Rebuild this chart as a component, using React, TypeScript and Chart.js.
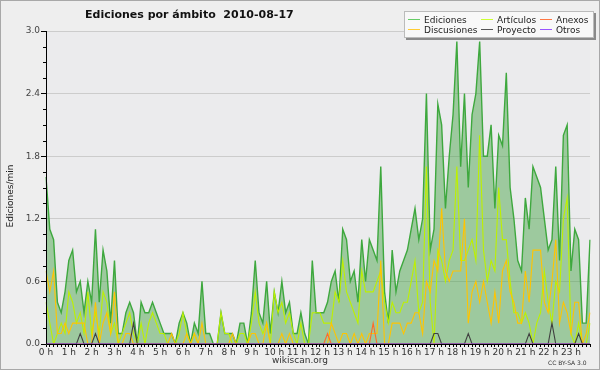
import React, { useEffect, useRef } from 'react';
import { Chart, registerables } from 'chart.js';

Chart.register(...registerables);

const titleText = 'Ediciones por ámbito  2010-08-17';
const yTitle = 'Ediciones/min';
const footerLeft = 'wikiscan.org';
const footerRight = 'CC BY-SA 3.0';

const hourLabels = [
  '0 h', '1 h', '2 h', '3 h', '4 h', '5 h', '6 h', '7 h', '8 h', '9 h', '10 h', '11 h',
  '12 h', '13 h', '14 h', '15 h', '16 h', '17 h', '18 h', '19 h', '20 h', '21 h', '22 h', '23 h',
];

// one value every 10 minutes (6 per hour)
const ediciones = [
  1.6, 1.1, 1.0, 0.4, 0.3, 0.5,
  0.8, 0.9, 0.5, 0.6, 0.3, 0.6,
  0.4, 1.1, 0.4, 0.9, 0.7, 0.2,
  0.8, 0.1, 0.1, 0.3, 0.4, 0.3,
  0.0, 0.4, 0.3, 0.3, 0.4, 0.3,
  0.2, 0.1, 0.1, 0.1, 0.0, 0.2,
  0.3, 0.2, 0.0, 0.2, 0.1, 0.6,
  0.1, 0.1, 0.0, 0.0, 0.3, 0.1,
  0.1, 0.1, 0.0, 0.2, 0.2, 0.0,
  0.3, 0.8, 0.3, 0.2, 0.6, 0.1,
  0.5, 0.3, 0.6, 0.3, 0.4, 0.1,
  0.1, 0.3, 0.1, 0.0, 0.8, 0.3,
  0.3, 0.3, 0.4, 0.6, 0.7, 0.4,
  1.1, 1.0, 0.6, 0.7, 0.4, 1.0,
  0.6, 1.0, 0.9, 0.8, 1.7, 0.5,
  0.2, 0.9, 0.5, 0.7, 0.8, 0.9,
  1.1, 1.3, 1.0, 1.2, 2.4, 0.9,
  1.1, 2.3, 2.1, 1.3, 1.8, 2.2,
  2.9, 1.7, 2.4, 1.5, 2.2, 2.4,
  2.9, 1.8, 1.8, 2.1, 1.3, 2.0,
  1.9, 2.6, 1.5, 1.2, 0.8, 0.7,
  1.4, 1.1, 1.7, 1.6, 1.5, 1.2,
  0.9, 1.0, 1.7, 0.8, 2.0, 2.1,
  0.7, 1.1, 1.0, 0.2, 0.2, 1.0,
];

const articulos = [
  0.4, 0.2, 0.0, 0.1, 0.2, 0.1,
  0.5, 0.4, 0.2, 0.3, 0.1, 0.5,
  0.1, 0.3, 0.1, 0.5, 0.4, 0.1,
  0.2, 0.0, 0.1, 0.2, 0.3, 0.1,
  0.0, 0.2, 0.0, 0.2, 0.3, 0.2,
  0.1, 0.1, 0.0, 0.0, 0.0, 0.1,
  0.3, 0.1, 0.0, 0.1, 0.0, 0.0,
  0.0, 0.0, 0.0, 0.0, 0.3, 0.1,
  0.1, 0.0, 0.0, 0.1, 0.1, 0.0,
  0.2, 0.5, 0.2, 0.1, 0.2, 0.0,
  0.5, 0.3, 0.4, 0.2, 0.3, 0.1,
  0.0, 0.2, 0.0, 0.0, 0.3, 0.3,
  0.3, 0.2, 0.2, 0.2, 0.5, 0.4,
  0.8, 0.5, 0.4, 0.3, 0.2, 0.7,
  0.5, 0.5, 0.5, 0.6, 0.7, 0.4,
  0.2, 0.4, 0.3, 0.3, 0.4, 0.4,
  0.6, 0.8, 0.3, 0.4, 1.7, 0.4,
  0.0, 0.9, 0.8, 0.6, 0.8, 0.9,
  1.7, 0.8, 0.8, 0.9, 1.0, 0.8,
  2.0, 0.9, 0.6, 0.8, 0.7, 1.5,
  1.0, 1.0, 0.6, 0.3, 0.3, 0.2,
  0.3, 0.2, 0.0, 0.2, 0.3, 0.7,
  0.4, 0.2, 0.6, 0.5, 1.2, 1.4,
  0.1, 0.0, 0.2, 0.0, 0.0, 0.2,
];

const discusiones = [
  0.7, 0.5, 0.7, 0.1, 0.1, 0.2,
  0.1, 0.2, 0.2, 0.2, 0.2, 0.0,
  0.0, 0.4, 0.0, 0.2, 0.3, 0.1,
  0.5, 0.0, 0.0, 0.1, 0.1, 0.0,
  0.0, 0.0, 0.0, 0.0, 0.0, 0.0,
  0.0, 0.0, 0.0, 0.1, 0.0, 0.0,
  0.0, 0.1, 0.0, 0.1, 0.0, 0.2,
  0.0, 0.0, 0.0, 0.0, 0.0, 0.0,
  0.0, 0.1, 0.0, 0.0, 0.0, 0.0,
  0.1, 0.1, 0.0, 0.0, 0.2, 0.0,
  0.0, 0.0, 0.1, 0.0, 0.1, 0.0,
  0.0, 0.0, 0.0, 0.0, 0.0, 0.0,
  0.0, 0.0, 0.0, 0.2, 0.1, 0.0,
  0.1, 0.1, 0.0, 0.1, 0.0, 0.1,
  0.0, 0.1, 0.1, 0.1, 0.8, 0.0,
  0.0, 0.2, 0.2, 0.2, 0.1, 0.2,
  0.2, 0.3, 0.3, 0.1, 0.6, 0.5,
  0.8, 0.7, 1.3, 0.7, 0.6, 0.7,
  0.7, 0.7, 1.2, 0.2, 0.5, 0.6,
  0.4, 0.6, 0.4, 0.2, 0.5, 0.2,
  0.7, 0.8, 0.5, 0.4, 0.2, 0.2,
  0.7, 0.4, 0.9, 0.9, 0.9, 0.4,
  0.3, 0.6, 1.0, 0.2, 0.4, 0.3,
  0.1, 0.4, 0.4, 0.0, 0.1, 0.3,
];

const anexos = [
  0, 0, 0, 0, 0, 0, 0, 0, 0, 0, 0, 0, 0, 0, 0, 0, 0, 0, 0, 0, 0, 0, 0, 0,
  0, 0, 0, 0, 0, 0, 0, 0, 0, 0, 0, 0, 0, 0, 0, 0, 0, 0, 0, 0, 0, 0, 0, 0,
  0, 0, 0, 0, 0, 0, 0, 0, 0, 0, 0, 0, 0, 0, 0, 0, 0, 0, 0, 0, 0, 0, 0, 0,
  0, 0, 0.1, 0, 0, 0, 0, 0, 0, 0, 0, 0, 0, 0, 0.2, 0, 0, 0, 0, 0, 0, 0, 0, 0,
  0, 0, 0, 0, 0, 0, 0, 0, 0, 0, 0, 0, 0, 0, 0, 0, 0, 0, 0, 0, 0, 0, 0, 0,
  0, 0, 0, 0, 0, 0, 0, 0, 0, 0, 0, 0, 0, 0, 0, 0, 0, 0, 0, 0, 0, 0, 0, 0,
];

const proyecto = [
  0, 0, 0, 0, 0, 0, 0, 0, 0, 0.1, 0, 0, 0, 0.1, 0, 0, 0, 0, 0, 0, 0, 0, 0, 0.2,
  0, 0, 0, 0, 0, 0, 0, 0, 0, 0, 0, 0, 0, 0, 0, 0, 0, 0, 0, 0, 0, 0, 0, 0,
  0, 0, 0, 0, 0, 0, 0, 0, 0, 0, 0, 0, 0, 0, 0, 0, 0, 0, 0, 0, 0, 0, 0, 0,
  0, 0, 0, 0, 0, 0, 0, 0, 0, 0, 0, 0, 0, 0, 0, 0, 0, 0, 0, 0, 0, 0, 0, 0,
  0, 0, 0, 0, 0, 0, 0.1, 0.1, 0, 0, 0, 0, 0, 0, 0, 0.1, 0, 0, 0, 0, 0, 0, 0, 0,
  0, 0, 0, 0, 0, 0, 0, 0.1, 0, 0, 0, 0, 0, 0.2, 0, 0, 0, 0, 0, 0, 0.1, 0, 0, 0,
];

const otros = [
  0, 0, 0, 0, 0, 0, 0, 0, 0, 0, 0, 0, 0, 0, 0, 0, 0, 0, 0, 0, 0, 0, 0, 0,
  0, 0, 0, 0, 0, 0, 0, 0, 0, 0, 0, 0, 0, 0, 0, 0, 0, 0, 0, 0, 0, 0, 0, 0,
  0, 0, 0, 0, 0, 0, 0, 0, 0, 0, 0, 0, 0, 0, 0, 0, 0, 0, 0, 0, 0, 0, 0, 0,
  0, 0, 0, 0, 0, 0, 0, 0, 0, 0, 0, 0, 0, 0, 0, 0, 0, 0, 0, 0, 0, 0, 0, 0,
  0, 0, 0, 0, 0, 0, 0, 0, 0, 0, 0, 0, 0, 0, 0, 0, 0, 0, 0, 0, 0, 0, 0, 0,
  0, 0, 0, 0, 0, 0, 0, 0, 0, 0, 0, 0, 0, 0, 0, 0, 0, 0, 0, 0, 0, 0, 0, 0,
];

const seriesNames = ['Ediciones', 'Artículos', 'Anexos', 'Discusiones', 'Proyecto', 'Otros'];

const FONT = 'DejaVu Sans';
const isMajor = (v: number) => Math.abs(v / 0.6 - Math.round(v / 0.6)) < 1e-6;

export default function App() {
  const canvasRef = useRef<HTMLCanvasElement | null>(null);

  useEffect(() => {
    document.body.style.margin = '0';
    const canvas = canvasRef.current;
    if (!canvas) return;

    const labels = ediciones.map((_, i) => (i % 6 === 0 ? hourLabels[i / 6] : ''));

    const colors: Record<string, string> = {
      Ediciones: '#3ea83e',
      'Artículos': '#bdf000',
      Anexos: '#ff6a2a',
      Discusiones: '#ffc400',
      Proyecto: '#404040',
      Otros: '#9a4cff',
    };
    const legendColors: Record<string, string> = {
      Ediciones: '#66cc66',
      'Artículos': '#ccff33',
      Anexos: '#ff7744',
      Discusiones: '#ffcc33',
      Proyecto: '#555555',
      Otros: '#9955ff',
    };
    const values: Record<string, number[]> = {
      Ediciones: ediciones,
      'Artículos': articulos,
      Anexos: anexos,
      Discusiones: discusiones,
      Proyecto: proyecto,
      Otros: otros,
    };
    const drawOrder: Record<string, number> = {
      Ediciones: 10,
      'Artículos': 5,
      Discusiones: 4,
      Anexos: 3,
      Proyecto: 2,
      Otros: 1,
    };

    const datasets = seriesNames.map((name) => ({
      label: name,
      data: values[name],
      borderColor: colors[name],
      backgroundColor: name === 'Ediciones' ? 'rgba(62,160,62,0.45)' : colors[name],
      fill: name === 'Ediciones' ? 'origin' : false,
      borderWidth: name === 'Ediciones' ? 1.4 : 1.1,
      pointRadius: 0,
      tension: 0,
      order: drawOrder[name],
    }));

    const decorPlugin = {
      id: 'decor',
      beforeDraw(chart: any) {
        const { ctx, chartArea } = chart;
        ctx.save();
        ctx.fillStyle = '#eeeeee';
        ctx.fillRect(0, 0, chart.width, chart.height);
        ctx.fillStyle = '#ebebed';
        ctx.fillRect(chartArea.left, chartArea.top, chartArea.right - chartArea.left, chartArea.bottom - chartArea.top);
        ctx.strokeStyle = '#a8a8a8';
        ctx.lineWidth = 1;
        ctx.strokeRect(0.5, 0.5, chart.width - 1, chart.height - 1);
        ctx.restore();
      },
      afterDatasetsDraw(chart: any) {
        const { ctx, chartArea } = chart;
        const yScale = chart.scales.y;
        ctx.save();
        ctx.strokeStyle = '#000';
        ctx.lineWidth = 1;
        ctx.beginPath();
        ctx.moveTo(chartArea.left + 0.5, chartArea.top);
        ctx.lineTo(chartArea.left + 0.5, chartArea.bottom + 0.5);
        ctx.lineTo(chartArea.right, chartArea.bottom + 0.5);
        ctx.stroke();
        // minor y ticks
        ctx.beginPath();
        for (const t of yScale.ticks) {
          if (isMajor(t.value)) continue;
          const py = Math.round(yScale.getPixelForValue(t.value)) + 0.5;
          ctx.moveTo(chartArea.left - 3, py);
          ctx.lineTo(chartArea.left, py);
        }
        ctx.stroke();
        ctx.restore();
      },
      afterDraw(chart: any) {
        const { ctx } = chart;
        ctx.save();
        // title
        ctx.fillStyle = '#111';
        ctx.font = `bold 11px "${FONT}"`;
        ctx.textAlign = 'left';
        ctx.textBaseline = 'alphabetic';
        ctx.fillText(titleText, 85, 17.5);
        // y axis title
        ctx.save();
        ctx.translate(13, 196);
        ctx.rotate(-Math.PI / 2);
        ctx.font = `9px "${FONT}"`;
        ctx.fillStyle = '#222';
        ctx.textAlign = 'center';
        ctx.textBaseline = 'alphabetic';
        ctx.fillText(yTitle, 0, 0);
        ctx.restore();
        // footers
        ctx.font = `9px "${FONT}"`;
        ctx.fillStyle = '#333';
        ctx.textAlign = 'center';
        ctx.fillText(footerLeft, 300, 363);
        ctx.font = `6px "${FONT}"`;
        ctx.textAlign = 'left';
        ctx.fillText(footerRight, 548, 365);
        // legend
        const bx = 404, by = 11, bw = 190, bh = 27;
        ctx.fillStyle = '#8a8a8a';
        ctx.fillRect(bx + 2, by + 2, bw, bh);
        ctx.fillStyle = '#f8f8f8';
        ctx.fillRect(bx, by, bw, bh);
        ctx.strokeStyle = '#bbbbbb';
        ctx.strokeRect(bx + 0.5, by + 0.5, bw - 1, bh - 1);
        const colX = [408, 481, 540];
        const rowY = [19.5, 29.5];
        ctx.font = `9px "${FONT}"`;
        ctx.textBaseline = 'alphabetic';
        chart.data.datasets.forEach((ds: any, i: number) => {
          const col = i % 3;
          const row = Math.floor(i / 3);
          const x = colX[col];
          const y = rowY[row];
          ctx.strokeStyle = legendColors[ds.label];
          ctx.lineWidth = 1;
          ctx.beginPath();
          ctx.moveTo(x, y);
          ctx.lineTo(x + 12, y);
          ctx.stroke();
          ctx.fillStyle = '#222';
          ctx.fillText(ds.label, x + 16, y + 3);
        });
        ctx.restore();
      },
    };

    const chart = new Chart(canvas, {
      type: 'line',
      data: { labels, datasets: datasets as any },
      options: {
        responsive: false,
        animation: false,
        devicePixelRatio: 1,
        events: [],
        layout: { padding: { top: 31, right: 10, left: 0, bottom: 0 } },
        plugins: {
          legend: { display: false },
          title: { display: false },
          tooltip: { enabled: false },
        },
        scales: {
          x: {
            type: 'category',
            afterFit: (s: any) => {
              s.height = 26;
            },
            ticks: {
              autoSkip: false,
              maxRotation: 0,
              minRotation: 0,
              padding: 0,
              color: '#333',
              font: { family: FONT, size: 9 },
            },
            grid: {
              display: true,
              drawOnChartArea: false,
              drawTicks: true,
              tickLength: 3,
              tickColor: '#000',
              color: '#000',
            },
            border: { display: false },
          },
          y: {
            min: 0,
            max: 3,
            afterFit: (s: any) => {
              s.width = 46;
            },
            ticks: {
              stepSize: 0.15,
              autoSkip: false,
              padding: 1,
              color: '#444',
              font: { family: FONT, size: 9 },
              callback: (v: any) => (isMajor(Number(v)) ? Number(v).toFixed(1) : ''),
            },
            grid: {
              drawTicks: true,
              tickLength: 5,
              color: (c: any) => (c.tick && isMajor(c.tick.value) ? '#cccccc' : 'rgba(0,0,0,0)'),
              tickColor: (c: any) => (c.tick && isMajor(c.tick.value) ? '#000' : 'rgba(0,0,0,0)'),
            },
            border: { display: false },
          },
        },
      },
      plugins: [decorPlugin],
    });

    return () => chart.destroy();
  }, []);

  return (
    <div style={{ width: 600, height: 370 }}>
      <canvas ref={canvasRef} width={600} height={370} style={{ display: 'block', width: 600, height: 370 }} />
    </div>
  );
}
